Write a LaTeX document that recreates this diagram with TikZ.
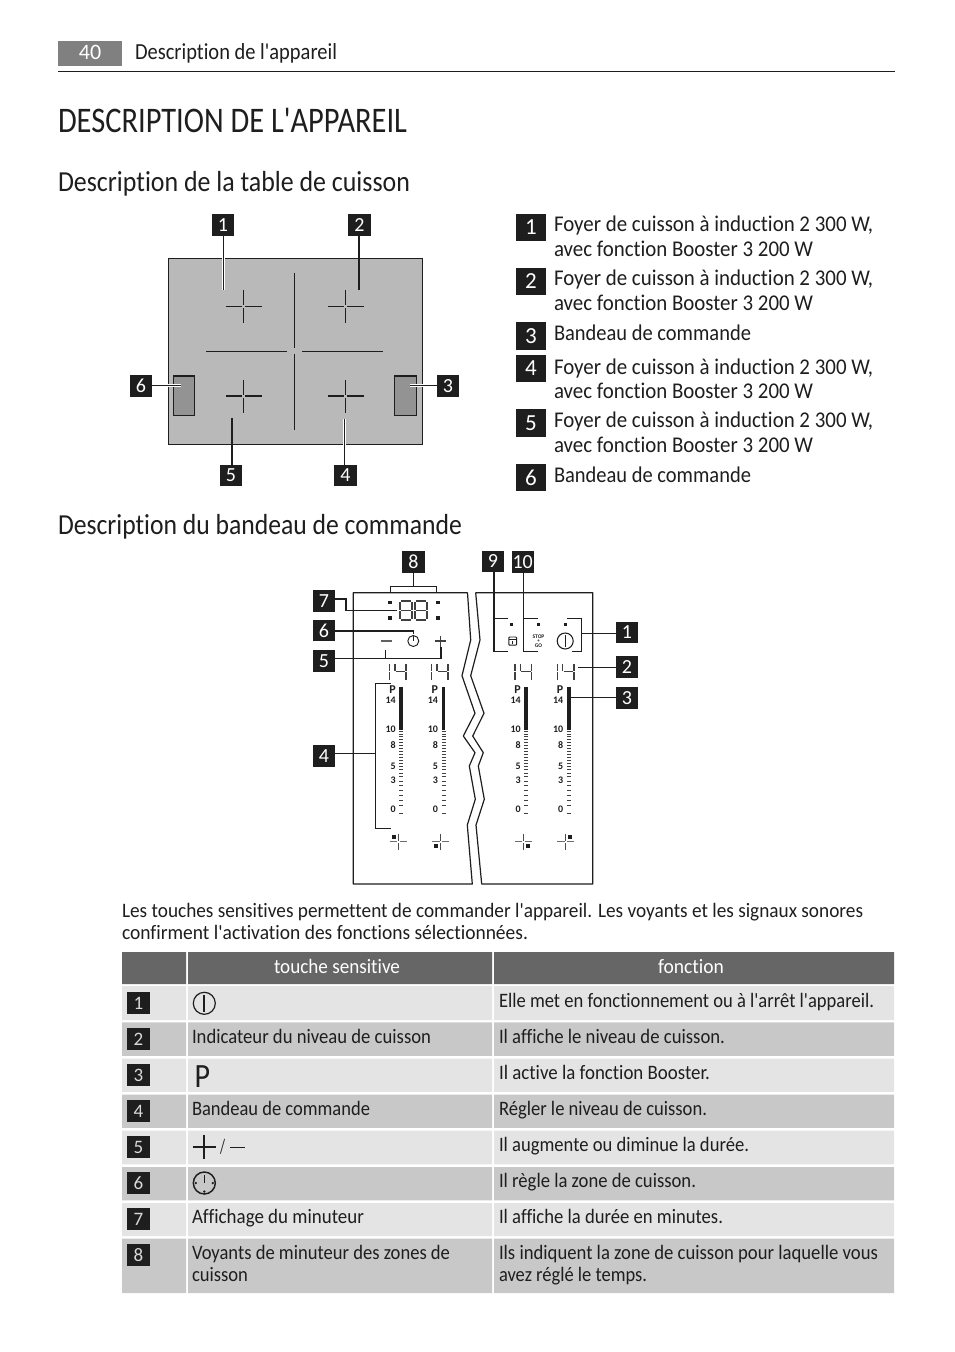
\documentclass[tikz,border=0pt]{standalone}
\usepackage{graphicx}
\usepackage{fontspec}
\setmainfont[Ligatures={TeXOff,NoCommon}]{Carlito}
\definecolor{ink}{HTML}{1E1E1E}
\definecolor{hobgray}{HTML}{B9B9B9}
\definecolor{ctrlgray}{HTML}{939393}
\definecolor{headgray}{HTML}{666666}
\definecolor{rowlight}{HTML}{E4E4E4}
\definecolor{rowdark}{HTML}{C8C8C8}
\newcommand\FS[1]{\fontsize{\the\dimexpr #1pt*3/4\relax}{\the\dimexpr #1pt*3/4\relax}\selectfont}
\newcommand\T[7][ink]{\node[anchor=base west,inner sep=0pt,outer sep=0pt,text=#1] (#2) at (#3,#4) {\FS{#5}\resizebox{\dimexpr #6pt*3/4\relax}{\height}{#7}};}
\newcommand\SegFourteen[1]{%
 \begin{scope}[shift={(#1,663.3)}]
  \draw[seg] (0,0.5)--(0,7.6) (0,9)--(0,16.5);
  \draw[seg] (5.3,0.5)--(5.3,7.6) (6.3,8.3)--(15.6,8.3) (16.5,0.5)--(16.5,7.6) (16.5,9)--(16.5,16.5);
 \end{scope}}
\newcommand\SegEight[1]{%
 \begin{scope}[shift={(#1,601)}]
  \draw[seg] (1,0)--(11,0) (1,9.5)--(11,9.5) (1,19)--(11,19)
   (0,1)--(0,8.8) (12,1)--(12,8.8) (0,10.3)--(0,18) (12,10.3)--(12,18);
 \end{scope}}
\tikzset{
 x=0.75pt,y=-0.75pt,
 badge/.style={fill=ink,text=white,inner sep=0pt,outer sep=0pt,minimum width=16.6pt,minimum height=16.2pt,font=\FS{20}},
 bigbadge/.style={fill=ink,text=white,inner sep=0pt,outer sep=0pt,minimum width=22.5pt,minimum height=20.7pt,font=\FS{23}},
 tabbadge/.style={fill=ink,text=white!85!black,inner sep=0pt,outer sep=0pt,minimum width=16.8pt,minimum height=16.5pt,font=\FS{19}},
 conn/.style={draw=ink,line width=0.8pt},
 halo/.style={conn,preaction={draw=white,line width=2pt}},
 seg/.style={draw=ink!85,line width=1.1pt},
 edge line/.style={draw=ink,line width=0.9pt,line join=round},
 tiny/.style={inner sep=0pt,outer sep=0pt,text=ink,font=\bfseries\FS{10}},
}
\begin{document}
\begin{tikzpicture}
\useasboundingbox (0,0) rectangle (954,1352);
\fill[white] (0,0) rectangle (954,1352);
%% header
\fill[black!50] (58,41) rectangle (122,66);
\node[inner sep=0pt,text=white,font=\FS{22}] (pageno) at (90,52.5) {40};
\T{runhead}{135}{60}{23}{202}{Description de l'appareil}
\draw[draw=ink,line width=0.7pt] (58,71.3) -- (895,71.3);
\T{title}{58}{133}{36}{349}{DESCRIPTION DE L'APPAREIL}
\T{sec1}{58}{192}{29}{352}{Description de la table de cuisson}
\T{sec2}{58}{534}{29}{404}{Description du bandeau de commande}
%% hob
\draw[fill=hobgray,draw=ink,line width=0.8pt] (168.5,258.5) rectangle (422.5,444.5);
\draw[fill=ctrlgray,draw=ink,line width=0.8pt] (173.3,376) rectangle (194.7,415.7);
\draw[fill=ctrlgray,draw=ink,line width=0.8pt] (394.3,376) rectangle (416.7,415.7);
\foreach \cx/\cy in {243.5/306.5,345.5/306.5,243.5/396,345.5/396}{
  \draw[ink,line width=1.3pt] (\cx-18,\cy) -- (\cx-1.5,\cy) (\cx+1.5,\cy) -- (\cx+18,\cy);
  \draw[ink,line width=0.6pt] (\cx,\cy-16.5) -- (\cx,\cy-1.5) (\cx,\cy+1.5) -- (\cx,\cy+16.5);
}
\draw[ink,line width=0.7pt] (294.5,272.5) -- (294.5,348) (294.5,354) -- (294.5,430)
  (206,351.3) -- (286.7,351.3) (302.3,351.3) -- (382.7,351.3);
\node[badge] (h1) at (223,225) {1};
\node[badge] (h2) at (359.5,225) {2};
\node[badge] (h3) at (448,386) {3};
\node[badge] (h4) at (345.5,475.5) {4};
\node[badge] (h5) at (231,475.5) {5};
\node[badge] (h6) at (141,386) {6};
\coordinate (hc1) at (223.3,289.5);
\coordinate (hc2) at (359,289.5);
\coordinate (hc3) at (410,385.7);
\coordinate (hc4) at (344.3,419);
\coordinate (hc5) at (232,418.3);
\coordinate (hc6) at (181,385.7);
\draw[halo] (h1.south -| hc1) -- (hc1);
\draw[halo] (h2.south -| hc2) -- (hc2);
\draw[halo] (h3.west |- hc3) -- (hc3);
\draw[halo] (h4.north -| hc4) -- (hc4);
\draw[halo,line width=1.1pt] (h5.north -| hc5) -- (hc5);
\draw[halo] (h6.east |- hc6) -- (hc6);
%% list
\node[bigbadge] (l1) at (531,227.5) {1};
\node[bigbadge] (l2) at (531,281.5) {2};
\node[bigbadge] (l3) at (531,336) {3};
\node[bigbadge] (l4) at (531,368.5) {4};
\node[bigbadge] (l5) at (531,423) {5};
\node[bigbadge] (l6) at (531,477.5) {6};
\T{la1}{554}{231}{22.5}{319}{Foyer de cuisson à induction 2 300 W,}
\T{lb1}{554}{256}{22.5}{259}{avec fonction Booster 3 200 W}
\T{la2}{554}{285}{22.5}{319}{Foyer de cuisson à induction 2 300 W,}
\T{lb2}{554}{310}{22.5}{259}{avec fonction Booster 3 200 W}
\T{la3}{554}{340}{22.5}{197}{Bandeau de commande}
\T{la4}{554}{374}{22.5}{319}{Foyer de cuisson à induction 2 300 W,}
\T{lb4}{554}{398}{22.5}{259}{avec fonction Booster 3 200 W}
\T{la5}{554}{427}{22.5}{319}{Foyer de cuisson à induction 2 300 W,}
\T{lb5}{554}{452}{22.5}{259}{avec fonction Booster 3 200 W}
\T{la6}{554}{482}{22.5}{197}{Bandeau de commande}
%% control panel outline
\draw[edge line] (467.5,592.7) -- (353.3,592.7) -- (353.3,884) -- (472.3,884) -- (467.3,825) -- (475.3,799.3) -- (469.3,766) -- (475,752.7) -- (463.3,736) -- (475,713.3) -- (462,675.7) -- (470.7,640) -- (467.5,592.7);
\draw[edge line] (475.7,592.7) -- (592.7,592.7) -- (592.7,884) -- (481.7,884) -- (476,825) -- (484.3,799.3) -- (478.3,766) -- (483.3,752.7) -- (472.7,736) -- (484,713.3) -- (470.7,675.7) -- (480,640) -- (475.7,592.7);
%% timer display
\SegEight{400}\SegEight{415}
\foreach \dx/\dy in {390/602.3,390/617.7,437.7/602.3,437.7/617.7}{
  \fill[ink] (\dx-1.8,\dy-1.8) rectangle (\dx+1.8,\dy+1.8);}
\draw[ink!70,line width=1.5pt] (381,641) -- (392.3,641);
\draw[ink!85,line width=1pt] (435.2,641) -- (446.2,641) (440.7,635.5) -- (440.7,646.5);
\draw[ink,line width=0.7pt] (413.3,641) circle (5.5);
\draw[ink,line width=0.7pt] (413.3,635.5) -- (413.3,641);
%% right hand icons
\foreach \dx in {511.7,538.3,565}{\fill[ink] (\dx-1.5,624.7-1.5) rectangle (\dx+1.5,624.7+1.5);}
\draw[ink,line width=0.7pt,rounded corners=0.6pt] (508.8,637) rectangle (516.6,645.2);
\draw[ink,line width=0.7pt] (508.8,639.6) -- (516.6,639.6) (512.7,641) -- (512.7,643.5);
\node[tiny,font=\bfseries\FS{5.5}] (stop) at (538.5,636.7) {STOP};
\node[tiny,font=\bfseries\FS{5}] (plus) at (538.5,640.9) {+};
\node[tiny,font=\bfseries\FS{5.5}] (go) at (538.5,645.4) {GO};
\draw[ink,line width=0.8pt] (565.2,641) circle (8);
\draw[ink,line width=1pt] (565.2,635) -- (565.2,647);
%% columns
\SegFourteen{389.5}\SegFourteen{431.7}\SegFourteen{515}\SegFourteen{557.3}
\foreach \c/\bx/\bw in {1/399.3/3.6,2/441.5/3.8,3/524.3/3.5,4/566.8/3.8}{
  \fill[ink] (\bx,686.7) rectangle (\bx+\bw,730);
  \foreach \ty in {731.5,734,736.5,739,742,745,748,751,754,757,760,763,766,769.5,773,776.5,781,785.5,790,795,800,805,813}{
    \draw[ink!85,line width=0.55pt] (\bx,\ty) -- (\bx+\bw+0.4,\ty);
  }
  \node[tiny,anchor=east,font=\bfseries\FS{12}] (lp\c) at (\bx-3.5,690) {P};
  \foreach \n/\ny in {14/700.7,10/729.3,8/745,5/766,3/780,0/809.3}{
    \node[tiny,anchor=east] (lab\c x\n) at (\bx-3.5,\ny) {\n};
  }
}
\foreach \cx/\sx/\sy in {398.3/392.2/835,440.7/434.3/844.2,523.3/525.7/844.2,565.7/568/835}{
  \draw[ink!65,line width=0.6pt] (\cx-8.5,841.7) -- (\cx-1.2,841.7) (\cx+1.2,841.7) -- (\cx+8.5,841.7);
  \draw[ink!80,line width=0.6pt] (\cx,833.5) -- (\cx,840.5) (\cx,843) -- (\cx,850);
  \fill[ink] (\sx,\sy) rectangle (\sx+4,\sy+4);
}
%% panel badges
\node[badge] (p8) at (413.5,562) {8};
\node[badge] (p9) at (493,561.5) {9};
\node[badge] (p10) at (522.7,562) {10};
\node[badge] (p7) at (324,601) {7};
\node[badge] (p6) at (324,630.5) {6};
\node[badge] (p5) at (324,661) {5};
\node[badge] (p4) at (324,756) {4};
\node[badge] (q1) at (627,632.5) {1};
\node[badge] (q2) at (627,667) {2};
\node[badge] (q3) at (627,698) {3};
%% panel connectors
\coordinate (c8a) at (413.5,586.3);
\coordinate (c8l) at (390.7,586.3);
\coordinate (c8r) at (436.7,586.3);
\coordinate (c8le) at (390.7,592.7);
\coordinate (c8re) at (436.7,592.7);
\draw[conn] (p8.south) -- (c8a);
\draw[conn] (c8le) -- (c8l) -- (c8r) -- (c8re);
\coordinate (c7a) at (335,599);
\coordinate (c7b) at (346,599);
\coordinate (c7c) at (346,610.7);
\coordinate (c7d) at (397.3,610.7);
\draw[conn] (c7a) -- (c7b) -- (c7c) -- (c7d);
\coordinate (c6a) at (413.3,631);
\coordinate (c6b) at (413.3,634);
\draw[conn] (p6.east |- c6a) -- (c6a) -- (c6b);
\coordinate (c5a) at (441,658.3);
\coordinate (c5b) at (441,647);
\coordinate (c5c) at (385.7,658.3);
\coordinate (c5d) at (385.7,650);
\draw[conn] (p5.east |- c5a) -- (c5a) -- (c5b);
\draw[conn] (c5c) -- (c5d);
\coordinate (c4a) at (375.7,753.5);
\coordinate (c4t) at (375.7,683.3);
\coordinate (c4b) at (375.7,828.3);
\coordinate (c4te) at (390.7,683.3);
\coordinate (c4be) at (390.7,828.3);
\draw[conn] (p4.east |- c4a) -- (c4a);
\draw[conn] (c4te) -- (c4t) -- (c4b) -- (c4be);
\coordinate (c9t) at (494,618.3);
\coordinate (c9b) at (494,651.9);
\coordinate (c9te) at (508.3,618.3);
\coordinate (c9be) at (508.3,651.9);
\draw[conn] (p9.south -| c9b) -- (c9b) -- (c9be);
\draw[conn] (c9t) -- (c9te);
\coordinate (c10t) at (523.8,618.3);
\coordinate (c10b) at (523.8,651.9);
\coordinate (c10te) at (537.5,618.3);
\coordinate (c10be) at (537.5,651.9);
\draw[conn] (p10.south -| c10b) -- (c10b) -- (c10be);
\draw[conn] (c10t) -- (c10te);
\coordinate (c1a) at (566.7,618.3);
\coordinate (c1b) at (581.7,618.3);
\coordinate (c1c) at (581.7,651.9);
\coordinate (c1d) at (571.7,651.9);
\coordinate (c1e) at (581.7,633.3);
\draw[conn] (c1a) -- (c1b) -- (c1c) -- (c1d);
\draw[conn] (q1.west |- c1e) -- (c1e);
\coordinate (c2a) at (577.7,667.7);
\draw[conn] (q2.west |- c2a) -- (c2a);
\coordinate (c3a) at (570.7,697.7);
\draw[conn] (q3.west |- c3a) -- (c3a);
%% paragraph
\T{para1}{122}{917}{20.5}{741}{Les touches sensitives permettent de commander l'appareil. Les voyants et les signaux sonores}
\T{para2}{122}{939}{20.5}{406}{confirment l'activation des fonctions sélectionnées.}
%% table
\fill[headgray] (122,952) rectangle (186,984) (188,952) rectangle (492,984) (494,952) rectangle (894,984);
\foreach \ya/\yb/\col in {986/1020/rowlight,1022.3/1055.8/rowdark,1058.7/1091.8/rowlight,1094.7/1127.8/rowdark,1130.7/1164.3/rowlight,1167/1200.3/rowdark,1203/1236/rowlight,1238.5/1293/rowdark}{
  \fill[\col] (122,\ya) rectangle (186,\yb) (188,\ya) rectangle (492,\yb) (494,\ya) rectangle (894,\yb);
}
\T[white]{th1}{274}{973}{20.5}{126}{touche sensitive}
\T[white]{th2}{658}{973}{20.5}{66}{fonction}
\node[tabbadge] (t1) at (138.5,1003) {1};
\node[tabbadge] (t2) at (138.5,1039) {2};
\node[tabbadge] (t3) at (138.5,1075) {3};
\node[tabbadge] (t4) at (138.5,1111) {4};
\node[tabbadge] (t5) at (138.5,1147) {5};
\node[tabbadge] (t6) at (138.5,1183) {6};
\node[tabbadge] (t7) at (138.5,1219) {7};
\node[tabbadge] (t8) at (138.5,1255) {8};
% table icons
\draw[ink,line width=0.9pt] (204.3,1003.3) circle (11);
\draw[ink,line width=1.4pt] (204.3,995) -- (204.3,1011.5);
\T{tabP}{194.5}{1087}{34}{15.5}{P}
\draw[ink,line width=1.3pt] (192.6,1147) -- (216,1147) (204.3,1135.3) -- (204.3,1158.7);
\T{tabslash}{220}{1153}{20.5}{5}{/}
\draw[ink,line width=0.6pt] (230,1147) -- (245,1147);
\draw[ink,line width=1.1pt] (204.3,1183) circle (11);
\draw[ink,line width=1.1pt] (204.3,1175) -- (204.3,1183);
\fill[ink] (195.8,1183) circle (1.3) (212.8,1183) circle (1.3) (204.3,1191.5) circle (1.3);
% col 2
\T{c2a}{192}{1043}{20.5}{239}{Indicateur du niveau de cuisson}
\T{c2b}{192}{1115}{20.5}{178}{Bandeau de commande}
\T{c2c}{192}{1223}{20.5}{172}{Affichage du minuteur}
\T{c2d}{192}{1259}{20.5}{258}{Voyants de minuteur des zones de}
\T{c2e}{192}{1281}{20.5}{56}{cuisson}
% col 3
\T{f1}{499}{1007}{20.5}{375}{Elle met en fonctionnement ou à l'arrêt l'appareil.}
\T{f2}{499}{1043}{20.5}{226}{Il affiche le niveau de cuisson.}
\T{f3}{499}{1079}{20.5}{211}{Il active la fonction Booster.}
\T{f4}{499}{1115}{20.5}{208}{Régler le niveau de cuisson.}
\T{f5}{499}{1151}{20.5}{250}{Il augmente ou diminue la durée.}
\T{f6}{499}{1187}{20.5}{197}{Il règle la zone de cuisson.}
\T{f7}{499}{1223}{20.5}{224}{Il affiche la durée en minutes.}
\T{f8}{499}{1259}{20.5}{379}{Ils indiquent la zone de cuisson pour laquelle vous}
\T{f9}{499}{1281}{20.5}{148}{avez réglé le temps.}
\end{tikzpicture}
\end{document}
